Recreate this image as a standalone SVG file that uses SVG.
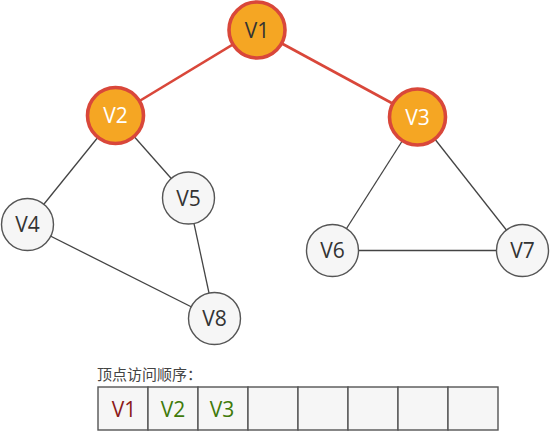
<svg xmlns="http://www.w3.org/2000/svg" width="550" height="433" viewBox="0 0 550 433">
<style>
.e{stroke:#444;stroke-width:1.3;fill:none}
.r{stroke:#d9473a;stroke-width:2.6;fill:none}
.n circle{fill:#f6f6f6;stroke:#555;stroke-width:1.4}
.h circle{fill:#f5a623;stroke:#d9473a;stroke-width:3.6}
text{font-family:"Open Sans","Noto Sans","Noto Sans CJK SC",sans-serif;font-size:21px;text-anchor:middle;fill:#333}
.h text{fill:#fff}
#h1 text{fill:#333}
.cell{fill:#f6f6f6;stroke:#555;stroke-width:1.4}
.lbl{font-size:15px;text-anchor:start;fill:#444;font-family:"Noto Sans CJK SC",sans-serif}
</style>
<rect width="550" height="433" fill="#fff"/>
<g id="edges">
<line class="r" x1="257" y1="30" x2="115.5" y2="115.5"/>
<line class="r" x1="257" y1="30" x2="417.5" y2="117"/>
<line class="e" x1="115.5" y1="115.5" x2="27.5" y2="224.5"/>
<line class="e" x1="115.5" y1="115.5" x2="188.5" y2="198"/>
<line class="e" x1="417.5" y1="117" x2="332.5" y2="250.5"/>
<line class="e" x1="417.5" y1="117" x2="522.5" y2="250.5"/>
<line class="e" x1="27.5" y1="224.5" x2="214.5" y2="318.5"/>
<line class="e" x1="188.5" y1="198" x2="214.5" y2="318.5"/>
<line class="e" x1="332.5" y1="250.5" x2="522.5" y2="250.5"/>
</g>
<g id="h1" class="h"><circle cx="257" cy="30" r="28"/><text x="257" y="37.5">V1</text></g>
<g id="h2" class="h"><circle cx="115.5" cy="115.5" r="28"/><text x="115.5" y="123">V2</text></g>
<g id="h3" class="h"><circle cx="417.5" cy="117" r="28"/><text x="417.5" y="124.5">V3</text></g>
<g id="n4" class="n"><circle cx="27.5" cy="224.5" r="26"/><text x="27.5" y="232">V4</text></g>
<g id="n5" class="n"><circle cx="188.5" cy="198" r="26"/><text x="188.5" y="205.5">V5</text></g>
<g id="n6" class="n"><circle cx="332.5" cy="250.5" r="26"/><text x="332.5" y="258">V6</text></g>
<g id="n7" class="n"><circle cx="522.5" cy="250.5" r="26"/><text x="522.5" y="258">V7</text></g>
<g id="n8" class="n"><circle cx="214.5" cy="318.5" r="26"/><text x="214.5" y="326">V8</text></g>
<g id="order">
<text class="lbl" x="97" y="380">顶点访问顺序：</text>
<rect class="cell" x="98" y="387" width="50" height="43"/>
<rect class="cell" x="148" y="387" width="50" height="43"/>
<rect class="cell" x="198" y="387" width="50" height="43"/>
<rect class="cell" x="248" y="387" width="50" height="43"/>
<rect class="cell" x="298" y="387" width="50" height="43"/>
<rect class="cell" x="348" y="387" width="50" height="43"/>
<rect class="cell" x="398" y="387" width="50" height="43"/>
<rect class="cell" x="448" y="387" width="50" height="43"/>
<text x="124" y="417" style="fill:#8b1a1a">V1</text>
<text x="173" y="417" style="fill:#3f7a0a">V2</text>
<text x="222" y="417" style="fill:#3f7a0a">V3</text>
</g>
</svg>
